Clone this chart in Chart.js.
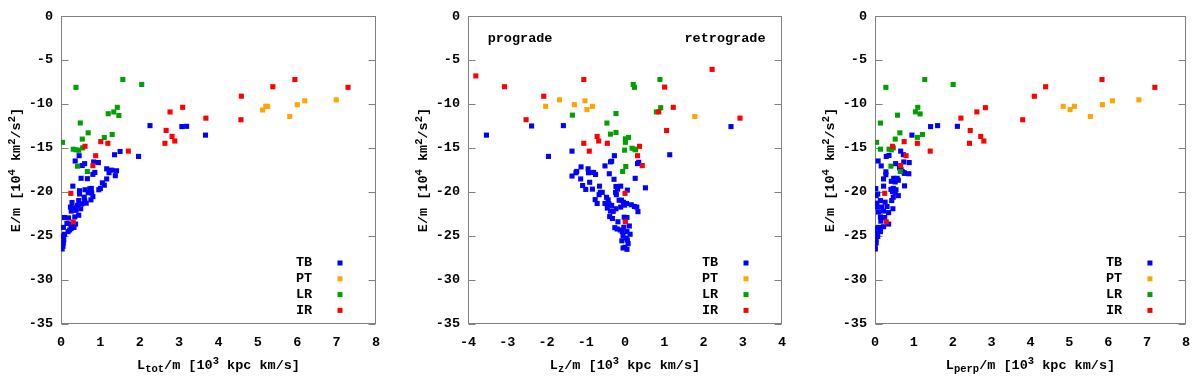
<!DOCTYPE html>
<html>
<head>
<meta charset="utf-8">
<script src="https://cdn.jsdelivr.net/npm/chart.js@4.4.1/dist/chart.umd.min.js"></script>
<style>
  html, body { margin: 0; padding: 0; background: #fff; }
  .row { display: flex; width: 1200px; height: 377px; }
  .cell { width: 400px; height: 377px; }
</style>
</head>
<body>
<div class="row">
  <div class="cell"><canvas id="cTot" width="400" height="377"></canvas></div>
  <div class="cell"><canvas id="cZ" width="400" height="377"></canvas></div>
  <div class="cell"><canvas id="cPerp" width="400" height="377"></canvas></div>
</div>
<script>
// ── data: [L/m (10^3 kpc km/s), E/m (10^4 km^2/s^2)] ─────────
const classes = ['TB', 'PT', 'LR', 'IR'];
const yTicks = [0, -5, -10, -15, -20, -25, -30, -35];

// panel 1: L_tot
const tbTot = [
  [2.26,-12.45],[3.07,-12.56],[3.19,-12.53],[3.67,-13.53],[1.97,-15.95],
  [0.46,-15.87],[0.36,-16.47],[0.60,-16.77],[0.54,-16.99],[0.83,-16.58],[0.95,-16.65],[1.50,-15.39],[1.36,-15.76],
  [1.16,-17.36],[1.28,-17.51],[1.41,-17.58],[1.38,-18.14],[1.16,-18.51],[0.86,-17.77],[0.81,-17.99],[0.67,-18.48],[0.51,-18.44],
  [0.30,-19.33],[1.05,-18.96],[1.00,-19.59],[0.96,-19.74],[0.77,-19.59],[0.61,-19.74],[0.73,-19.63],[0.47,-19.85],[0.47,-20.22],
  [0.69,-20.07],[0.78,-20.11],[0.59,-20.59],[0.81,-20.52],[0.76,-20.89],[0.60,-20.97],[0.45,-20.97],[0.28,-21.19],[0.42,-21.52],
  [0.53,-21.34],[0.64,-21.26],[0.24,-21.71],[0.35,-21.78],[0.50,-21.90],[0.38,-22.08],[0.26,-22.16],[0.45,-22.64],[0.35,-22.83],
  [0.09,-22.90],[0.19,-22.94],[0.15,-23.57],[0.25,-23.64],[0.37,-23.64],[0.33,-24.02],[0.26,-24.13],[0.06,-24.02],[0.18,-24.50],
  [0.22,-24.31],[0.09,-24.80],[0.06,-25.05],[0.07,-25.43],[0.06,-25.80],[0.05,-26.17],[0.03,-26.47],[0.01,-25.00],[0.00,-26.30],
  [1.10,-19.22],[1.22,-17.80]
];
const ptTot = [[5.12,-10.67],[5.20,-10.26],[5.25,-10.26],[5.81,-11.41],[6.00,-10.07],[6.19,-9.63],[6.99,-9.52]];
const lrTot = [
  [0.04,-14.35],[0.38,-8.10],[1.57,-7.20],[2.05,-7.77],[0.49,-12.15],[1.20,-11.10],[1.34,-10.90],[1.43,-10.37],
  [1.47,-11.30],[0.54,-13.98],[0.69,-13.27],[1.10,-13.80],[1.30,-13.46],[0.31,-15.13],[0.38,-15.20],[0.45,-15.25],
  [0.55,-14.98],[0.42,-17.06],[0.67,-17.66]
];
const irTot = [
  [0.25,-20.15],[0.31,-23.40],[0.61,-14.80],[0.81,-17.00],[0.88,-15.87],[1.01,-14.27],[1.19,-14.46],[1.71,-15.35],
  [2.64,-14.46],[2.67,-13.00],[2.77,-10.90],[2.82,-13.68],[2.89,-14.20],[3.09,-10.37],[3.68,-11.60],[4.57,-11.78],
  [4.58,-9.10],[5.38,-8.03],[5.94,-7.21],[7.29,-8.10]
];

// panel 2: L_z
const tbZ = [
  [-3.53,-13.53],[-2.38,-12.49],[-1.57,-12.45],[-1.95,-15.95],[-1.35,-15.35],[2.70,-12.56],[1.14,-15.76],[0.52,-19.52],
  [0.26,-18.44],[0.32,-16.77],[-0.27,-15.87],
  [-0.34,-16.50],[-0.37,-16.57],[-0.51,-17.03],[0.35,-16.62],[-1.12,-17.14],[-1.23,-17.66],[-1.25,-17.81],[-1.35,-18.18],
  [-0.94,-17.36],[-0.93,-17.81],[-0.80,-17.77],[-0.75,-18.00],[-1.13,-18.51],[-0.90,-18.89],[-1.08,-19.26],[-1.00,-19.70],
  [-0.83,-19.67],[-0.65,-19.33],[-0.40,-17.92],[-0.28,-18.55],[0.06,-19.78],[-0.23,-19.37],[-0.11,-19.33],[-0.19,-19.67],
  [-0.24,-20.04],[-0.22,-20.30],[-0.63,-20.04],[-0.58,-20.04],[-0.66,-20.30],[-0.76,-20.86],[-0.71,-21.30],[-0.47,-20.60],
  [-0.43,-20.89],[-0.51,-21.30],[-0.41,-21.34],[-0.34,-21.52],[-0.45,-21.82],[-0.37,-22.16],[-0.30,-22.19],[-0.23,-21.90],
  [-0.15,-20.93],[-0.09,-20.93],[-0.04,-21.16],[0.04,-21.30],[-0.01,-21.49],[-0.11,-21.71],[0.16,-21.45],[0.24,-21.64],
  [0.30,-21.71],[0.33,-22.23],[-0.32,-23.01],[-0.39,-22.79],[-0.18,-23.38],[-0.02,-22.86],[0.05,-22.90],[0.01,-23.27],
  [0.11,-23.86],[-0.26,-24.05],[-0.20,-24.20],[-0.12,-24.31],[-0.07,-24.50],[-0.03,-24.01],[0.05,-24.50],[0.13,-24.80],
  [-0.05,-24.95],[0.03,-25.24],[0.06,-25.46],[-0.08,-25.54],[0.08,-25.87],[0.00,-26.28],[-0.05,-26.36],[0.05,-26.51]
];
const ptZ = [[-2.02,-10.26],[-1.67,-9.52],[-1.29,-10.07],[-1.02,-9.63],[-0.97,-10.63],[-0.83,-10.26],[1.78,-11.41]];
const lrZ = [
  [-1.34,-11.26],[-0.46,-12.16],[-0.37,-13.42],[-0.23,-11.08],[-0.23,-13.23],[-0.01,-15.24],[0.01,-14.35],[0.01,-13.95],
  [0.09,-13.79],[-0.06,-17.66],[0.02,-17.10],[0.18,-15.02],[0.21,-7.77],[0.24,-8.10],[0.25,-15.13],[0.27,-15.20],
  [0.89,-7.21],[0.91,-10.41],[0.80,-10.89]
];
const irZ = [
  [-3.80,-6.80],[-3.07,-8.03],[-2.07,-9.11],[-2.52,-11.78],[-1.05,-7.21],[-1.05,-14.46],[-0.91,-15.35],[-0.71,-13.68],
  [-0.67,-14.20],[-0.45,-14.46],[0.00,-20.15],[0.01,-23.38],[0.32,-15.87],[0.37,-14.80],[0.44,-16.99],[0.86,-10.89],
  [1.01,-8.07],[1.06,-13.01],[1.23,-10.37],[2.22,-6.06],[2.93,-11.60]
];

// panel 3: L_perp
const tbPerp = [
  [0.95,-13.53],[1.43,-12.56],[1.61,-12.45],[2.12,-12.53],[0.66,-15.35],[0.88,-16.65],[0.73,-15.76],[0.75,-17.80],[0.76,-19.30],
  [0.36,-15.84],[0.29,-15.95],[0.08,-16.47],[0.16,-17.03],[0.53,-16.77],[0.74,-16.58],[0.63,-17.25],[0.67,-17.47],[0.70,-17.66],
  [0.76,-17.88],[0.87,-17.92],[0.28,-17.70],[0.28,-18.03],[0.22,-18.51],[0.48,-18.44],[0.42,-18.78],[0.57,-18.44],[0.52,-18.85],
  [0.60,-18.66],[0.22,-19.33],[0.41,-19.70],[0.47,-19.59],[0.54,-19.74],[0.45,-19.93],[0.52,-20.04],[0.07,-20.22],[0.03,-20.41],
  [0.47,-20.59],[0.60,-20.41],[0.14,-20.97],[0.05,-21.26],[0.26,-21.15],[0.43,-20.97],[0.04,-21.71],[0.17,-21.71],[0.31,-21.64],
  [0.46,-21.90],[0.22,-22.16],[0.09,-22.27],[0.35,-22.34],[0.14,-22.83],[0.25,-22.90],[0.15,-23.31],[0.35,-23.64],[0.22,-23.94],
  [0.09,-24.02],[0.01,-24.13],[0.14,-24.50],[0.03,-24.69],[0.07,-25.05],[0.03,-25.43],[0.03,-25.80],[0.00,-26.17],[0.01,-26.47],
  [0.02,-19.60],[0.00,-21.30]
];
const ptPerp = [[4.84,-10.26],[5.02,-10.63],[5.13,-10.26],[5.54,-11.41],[5.85,-10.07],[6.11,-9.63],[6.79,-9.52]];
const lrPerp = [
  [0.04,-14.35],[0.14,-12.16],[0.14,-15.13],[0.28,-8.10],[0.36,-15.13],[0.41,-17.06],[0.42,-15.20],[0.47,-14.98],
  [0.52,-13.98],[0.58,-11.26],[0.64,-13.27],[0.65,-17.66],[1.04,-10.89],[1.09,-13.79],[1.10,-10.37],[1.16,-11.12],
  [1.22,-13.46],[1.28,-7.21],[2.01,-7.77]
];
const irPerp = [
  [0.25,-20.15],[0.29,-23.38],[0.45,-14.80],[0.66,-16.99],[0.75,-14.27],[0.80,-15.87],[1.09,-14.46],[1.42,-15.35],
  [2.21,-11.60],[2.43,-14.46],[2.45,-13.01],[2.62,-10.89],[2.72,-13.68],[2.80,-14.20],[2.84,-10.41],[3.80,-11.78],
  [4.10,-9.11],[4.39,-8.03],[5.84,-7.21],[7.20,-8.10]
];

// ── styles ───────────────────────────────────────────────
const COLORS = ['#0000ff', '#ffa500', '#00a000', '#ff0000'];
const MONO = '"Liberation Mono", "DejaVu Sans Mono", monospace';
const FS = 13.5;
const FS_SMALL = 10.5;
const BORDER = '#808080';

const yTitle = [['E/m [10', ''], ['4', 'sup'], [' km', ''], ['2', 'sup'], ['/s', ''], ['2', 'sup'], [']', '']];

function richText(ctx, parts, x, y, rot) {
  ctx.save();
  ctx.translate(x, y);
  if (rot) ctx.rotate(rot);
  ctx.textBaseline = 'middle';
  ctx.textAlign = 'left';
  ctx.fillStyle = '#000';
  let total = 0;
  const widths = parts.map(([t, k]) => {
    ctx.font = `bold ${k ? FS_SMALL : FS}px ${MONO}`;
    const w = ctx.measureText(t).width;
    total += w;
    return w;
  });
  let cx = -total / 2;
  parts.forEach(([t, k], i) => {
    ctx.font = `bold ${k ? FS_SMALL : FS}px ${MONO}`;
    const dy = k === 'sup' ? -5 : (k === 'sub' ? 3 : 0);
    ctx.fillText(t, cx, dy);
    cx += widths[i];
  });
  ctx.restore();
}

// frame, inward y ticks, axis titles, notes and key
const gnuplotLook = {
  id: 'gnuplotLook',
  beforeDatasetsDraw(chart) {
    const { ctx, chartArea: a, scales } = chart;
    ctx.save();
    ctx.strokeStyle = BORDER;
    ctx.lineWidth = 1;
    const L = Math.round(a.left) + 0.5, R = Math.round(a.right) - 0.5;
    const T = Math.round(a.top) + 0.5, B = Math.round(a.bottom) - 0.5;
    ctx.strokeRect(L, T, R - L, B - T);
    ctx.beginPath();
    yTicks.forEach(v => {
      const py = Math.round(scales.y.getPixelForValue(v)) + 0.5;
      ctx.moveTo(L, py); ctx.lineTo(L + 7, py);
      ctx.moveTo(R, py); ctx.lineTo(R - 7, py);
    });
    ctx.stroke();
    ctx.restore();
  },
  afterDraw(chart) {
    const { ctx, chartArea: a, scales } = chart;
    const o = chart.options.plugins.gnuplotLook;
    richText(ctx, o.xTitle, (a.left + a.right) / 2, 366, 0);
    richText(ctx, yTitle, a.left - 44, (a.top + a.bottom) / 2, -Math.PI / 2);

    ctx.save();
    ctx.font = `bold ${FS}px ${MONO}`;
    ctx.fillStyle = '#000';
    ctx.textBaseline = 'middle';
    if (o.notes) {
      const ny = scales.y.getPixelForValue(-2.6);
      ctx.textAlign = 'left';
      ctx.fillText('prograde', scales.x.getPixelForValue(-3.5), ny);
      ctx.textAlign = 'right';
      ctx.fillText('retrograde', scales.x.getPixelForValue(3.58), ny);
    }
    // key
    ctx.textAlign = 'left';
    chart.data.datasets.forEach((ds, i) => {
      const ky = a.bottom - 61 + i * 15.8;
      ctx.fillStyle = '#000';
      ctx.fillText(ds.label, a.right - 80, ky);
      ctx.fillStyle = ds.backgroundColor;
      ctx.fillRect(a.right - 38.5, ky - 2.5, 5, 5);
    });
    ctx.restore();
  }
};

function toXY(arr) {
  return arr.map(([x, y]) => ({ x, y }));
}

function makePanel(id, sets, xMin, xMax, leftW, rightPad, xTitle, notes) {
  new Chart(document.getElementById(id), {
    type: 'scatter',
    data: {
      datasets: sets.map((s, i) => ({
        label: classes[i],
        data: toXY(s),
        backgroundColor: COLORS[i],
        borderWidth: 0,
        pointStyle: 'rect',
        pointRadius: 3.6,
        pointHoverRadius: 3.6,
        order: 3 - i,
      })),
    },
    options: {
      responsive: false,
      animation: false,
      layout: { padding: { top: 10, right: rightPad, left: 0, bottom: 0 } },
      plugins: {
        legend: { display: false },
        tooltip: { enabled: false },
        gnuplotLook: { xTitle, notes },
      },
      scales: {
        x: {
          type: 'linear', min: xMin, max: xMax,
          ticks: { stepSize: 1, color: '#000', font: { family: MONO, size: FS, weight: 'bold' }, padding: 10, maxRotation: 0 },
          grid: { display: false, drawTicks: false },
          border: { display: false },
          afterFit: s => { s.height = 53; },
        },
        y: {
          type: 'linear', min: -35, max: 0,
          ticks: { stepSize: 5, color: '#000', font: { family: MONO, size: FS, weight: 'bold' }, padding: 8 },
          grid: { display: false, drawTicks: false },
          border: { display: false },
          afterFit: s => { s.width = leftW; },
        },
      },
    },
    plugins: [gnuplotLook],
  });
}

const suffix = [['/m [10', ''], ['3', 'sup'], [' kpc km/s]', '']];
makePanel('cTot', [tbTot, ptTot, lrTot, irTot], 0, 8, 61, 24, [['L', ''], ['tot', 'sub'], ...suffix], false);
makePanel('cZ', [tbZ, ptZ, lrZ, irZ], -4, 4, 68, 18, [['L', ''], ['z', 'sub'], ...suffix], true);
makePanel('cPerp', [tbPerp, ptPerp, lrPerp, irPerp], 0, 8, 75, 11, [['L', ''], ['perp', 'sub'], ...suffix], false);
</script>
</body>
</html>
